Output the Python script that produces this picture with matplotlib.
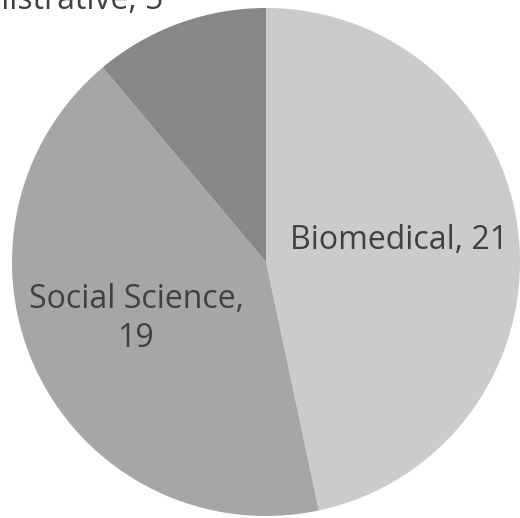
import matplotlib
matplotlib.use("Agg")
import matplotlib.pyplot as plt

categories = ["Biomedical", "Social Science", "Administrative"]
values = [21, 19, 5]
colors = ["#cbcbcb", "#a6a6a6", "#878787"]
label_text = ["Biomedical, 21", "Social Science,\n19", "Administrative, 5"]
label_pos = [(0.525, 0.085), (-0.512, -0.225), (-0.90, 0.998)]
label_va = ["center", "center", "baseline"]

plt.rcParams['font.family'] = ['Open Sans', 'DejaVu Sans']
fig = plt.figure(figsize=(5.2, 5.18), dpi=100)
ax = fig.add_axes([12/520, 2/518, 508/520, 508/518])
ax.pie(values, colors=colors, startangle=90, counterclock=False, radius=1,
       wedgeprops=dict(linewidth=0))
ax.set_xlim(-1, 1)
ax.set_ylim(-1, 1)
ax.set_aspect('equal')
ax.axis('off')
for t, (x, y), va in zip(label_text, label_pos, label_va):
    ax.text(x, y, t, ha='center', va=va, fontsize=23, color='#404040',
            clip_on=False, linespacing=1.25)
fig.savefig("out.png", dpi=100)
